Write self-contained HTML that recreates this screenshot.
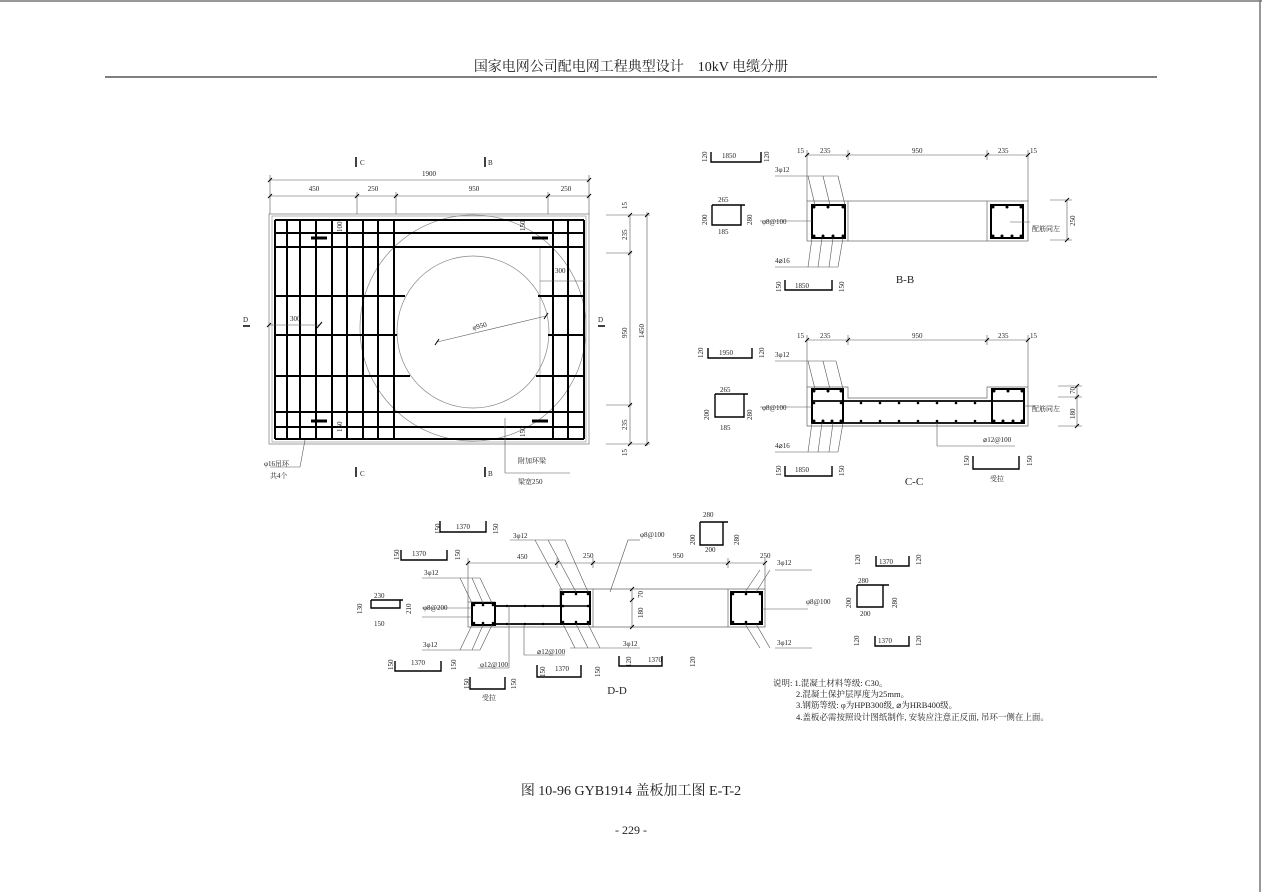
<!DOCTYPE html>
<html><head><meta charset="utf-8"><style>
html,body{margin:0;padding:0;background:#fff;}
svg{display:block}
text{font-family:"Liberation Serif","Noto Serif CJK SC",serif;fill:#222}
.d{font-size:7px}
</style></head><body>
<svg width="1262" height="892" viewBox="0 0 1262 892" xmlns="http://www.w3.org/2000/svg">
<!-- page border -->
<line x1="0" y1="1" x2="1262" y2="1" stroke="#777" stroke-width="1.5"/>
<line x1="1260" y1="0" x2="1260" y2="892" stroke="#777" stroke-width="1.5"/>
<text x="631" y="71" text-anchor="middle" font-size="14" style="font-family:'Liberation Serif','Noto Serif CJK SC',serif">国家电网公司配电网工程典型设计　10kV 电缆分册</text>
<line x1="105" y1="77" x2="1157" y2="77" stroke="#333" stroke-width="1.3"/>

<!-- ===== PLAN ===== -->
<g stroke="#000" fill="none">
<rect x="269" y="214" width="320" height="230" stroke="#888" stroke-width="0.8"/>
<rect x="272" y="216" width="314" height="226" stroke="#888" stroke-width="0.6"/>
<circle cx="473" cy="328" r="113" stroke="#888" stroke-width="0.7"/>
<circle cx="473" cy="332" r="76" stroke="#888" stroke-width="0.7"/>
<line x1="540" y1="247" x2="540" y2="412" stroke="#888" stroke-width="0.6"/>
<g stroke-width="2">
<line x1="275" y1="220" x2="275" y2="439"/><line x1="287" y1="220" x2="287" y2="439"/>
<line x1="300" y1="220" x2="300" y2="439"/><line x1="316" y1="220" x2="316" y2="439"/>
<line x1="332" y1="220" x2="332" y2="439"/><line x1="347" y1="220" x2="347" y2="439"/>
<line x1="363" y1="220" x2="363" y2="439"/><line x1="378" y1="220" x2="378" y2="439"/>
<line x1="394" y1="220" x2="394" y2="439"/>
<line x1="553" y1="220" x2="553" y2="439"/><line x1="568" y1="220" x2="568" y2="439"/>
<line x1="584" y1="220" x2="584" y2="439"/>
<line x1="275" y1="220" x2="584" y2="220"/><line x1="275" y1="233" x2="584" y2="233"/>
<line x1="275" y1="247" x2="584" y2="247"/><line x1="275" y1="412" x2="584" y2="412"/>
<line x1="275" y1="427" x2="584" y2="427"/><line x1="275" y1="439" x2="584" y2="439"/>
<line x1="275" y1="296" x2="405" y2="296"/><line x1="538" y1="296" x2="584" y2="296"/>
<line x1="275" y1="335" x2="397" y2="335"/><line x1="548" y1="335" x2="584" y2="335"/>
<line x1="275" y1="376" x2="410" y2="376"/><line x1="536" y1="376" x2="584" y2="376"/>
</g>
<g stroke-width="3">
<line x1="311" y1="238" x2="327" y2="238"/><line x1="532" y1="238" x2="548" y2="238"/>
<line x1="311" y1="421" x2="327" y2="421"/><line x1="532" y1="421" x2="548" y2="421"/>
</g>
<g stroke-width="0.6" stroke="#555">
<line x1="270" y1="180" x2="589" y2="180"/><line x1="270" y1="196" x2="589" y2="196"/>
<line x1="270" y1="175" x2="270" y2="214"/><line x1="589" y1="175" x2="589" y2="214"/>
<line x1="357" y1="192" x2="357" y2="214"/><line x1="396" y1="192" x2="396" y2="214"/><line x1="548" y1="192" x2="548" y2="214"/>
<line x1="630" y1="215" x2="630" y2="444"/><line x1="647" y1="212" x2="647" y2="446"/>
<line x1="606" y1="215" x2="650" y2="215"/><line x1="606" y1="253" x2="632" y2="253"/>
<line x1="606" y1="405" x2="632" y2="405"/><line x1="606" y1="444" x2="650" y2="444"/>
<line x1="437" y1="342" x2="546" y2="316"/>
<line x1="269" y1="325" x2="320" y2="325"/>
<line x1="540" y1="281" x2="585" y2="281"/>
<line x1="305" y1="440" x2="300" y2="467" /><line x1="300" y1="467" x2="270" y2="467"/>
<line x1="505" y1="418" x2="505" y2="473"/><line x1="505" y1="473" x2="570" y2="473"/>
</g>
<g stroke-width="1">
<line x1="268" y1="182" x2="272" y2="178"/><line x1="587" y1="182" x2="591" y2="178"/>
<line x1="268" y1="198" x2="272" y2="194"/><line x1="355" y1="198" x2="359" y2="194"/><line x1="394" y1="198" x2="398" y2="194"/><line x1="546" y1="198" x2="550" y2="194"/><line x1="587" y1="198" x2="591" y2="194"/>
<line x1="628" y1="217" x2="632" y2="213"/><line x1="628" y1="255" x2="632" y2="251"/><line x1="628" y1="407" x2="632" y2="403"/><line x1="628" y1="446" x2="632" y2="442"/>
<line x1="645" y1="217" x2="649" y2="213"/><line x1="645" y1="446" x2="649" y2="442"/>
<line x1="435" y1="345" x2="439" y2="339"/><line x1="544" y1="319" x2="548" y2="313"/>
<line x1="267" y1="327" x2="271" y2="323"/><line x1="317" y1="328" x2="322" y2="322"/>
</g>
<g stroke-width="1.5">
<line x1="356" y1="157" x2="356" y2="167"/><line x1="485" y1="157" x2="485" y2="167"/>
<line x1="356" y1="467" x2="356" y2="477"/><line x1="485" y1="467" x2="485" y2="477"/>
<line x1="243" y1="326" x2="250" y2="326"/><line x1="598" y1="326" x2="605" y2="326"/>
</g>
</g>
<g class="d">
<text x="360" y="165" class="d">C</text><text x="488" y="165" class="d">B</text>
<text x="360" y="476" class="d">C</text><text x="488" y="476" class="d">B</text>
<text x="243" y="322" class="d">D</text><text x="598" y="322" class="d">D</text>
<text x="429" y="176" class="d" text-anchor="middle">1900</text>
<text x="314" y="191" class="d" text-anchor="middle">450</text><text x="373" y="191" class="d" text-anchor="middle">250</text>
<text x="474" y="191" class="d" text-anchor="middle">950</text><text x="566" y="191" class="d" text-anchor="middle">250</text>
<text x="290" y="321" class="d">300</text><text x="555" y="273" class="d">300</text>
<text x="473" y="330" class="d" transform="rotate(-14 473 330)">φ950</text>
<text x="264" y="466" class="d">φ16吊环</text><text x="270" y="478" class="d">共4个</text>
<text x="518" y="463" class="d">附加环梁</text><text x="518" y="484" class="d">梁宽250</text>
<g transform="rotate(-90)">
<text x="-209" y="627" class="d">15</text><text x="-240" y="627" class="d">235</text>
<text x="-338" y="627" class="d">950</text><text x="-430" y="627" class="d">235</text>
<text x="-456" y="627" class="d">15</text><text x="-338" y="644" class="d">1450</text>
<text x="-232" y="342" class="d">100</text><text x="-432" y="342" class="d">150</text>
<text x="-231" y="525" class="d">150</text><text x="-437" y="525" class="d">150</text>
</g>
</g>

<!-- ===== B-B ===== -->
<g stroke="#000" fill="none">
<rect x="807" y="201" width="221" height="40" stroke="#666" stroke-width="0.7"/>
<line x1="848" y1="201" x2="848" y2="241" stroke="#666" stroke-width="0.7"/>
<line x1="987" y1="201" x2="987" y2="241" stroke="#666" stroke-width="0.7"/>
<rect x="812" y="205" width="33" height="33" stroke-width="2"/>
<rect x="991" y="205" width="32" height="33" stroke-width="2"/>
<g stroke-width="0.6" stroke="#555">
<line x1="807" y1="155" x2="1028" y2="155"/>
<line x1="807" y1="150" x2="807" y2="201"/><line x1="1028" y1="150" x2="1028" y2="201"/>
<line x1="848" y1="150" x2="848" y2="160"/><line x1="987" y1="150" x2="987" y2="160"/>
<line x1="1067" y1="200" x2="1067" y2="240"/><line x1="1050" y1="200" x2="1072" y2="200"/><line x1="1050" y1="240" x2="1072" y2="240"/>
<line x1="775" y1="176" x2="838" y2="176"/><line x1="808" y1="176" x2="815" y2="205"/><line x1="823" y1="176" x2="830" y2="205"/><line x1="838" y1="176" x2="845" y2="205"/>
<line x1="760" y1="221" x2="812" y2="221"/>
<line x1="775" y1="267" x2="838" y2="267"/><line x1="812" y1="238" x2="808" y2="267"/><line x1="822" y1="238" x2="818" y2="267"/><line x1="833" y1="238" x2="829" y2="267"/><line x1="843" y1="238" x2="838" y2="267"/>
<line x1="1010" y1="222" x2="1030" y2="222"/>
</g>
<g stroke-width="1.4">
<path d="M711 152 V162 H761 V152"/><path d="M785 280 V290 H832 V280"/>
<path d="M712 205 V225 H741 V205 M712 205 H745"/>
</g>
<g stroke-width="1">
<line x1="805" y1="157" x2="809" y2="153"/><line x1="846" y1="157" x2="850" y2="153"/><line x1="985" y1="157" x2="989" y2="153"/><line x1="1026" y1="157" x2="1030" y2="153"/>
<line x1="1065" y1="202" x2="1069" y2="198"/><line x1="1065" y1="242" x2="1069" y2="238"/>
</g>
</g>
<g fill="#000">
<circle cx="814" cy="207" r="1.5"/><circle cx="828" cy="207" r="1.5"/><circle cx="843" cy="207" r="1.5"/>
<circle cx="814" cy="236" r="1.5"/><circle cx="823" cy="236" r="1.5"/><circle cx="833" cy="236" r="1.5"/><circle cx="843" cy="236" r="1.5"/>
<circle cx="993" cy="207" r="1.5"/><circle cx="1007" cy="207" r="1.5"/><circle cx="1021" cy="207" r="1.5"/>
<circle cx="993" cy="236" r="1.5"/><circle cx="1002" cy="236" r="1.5"/><circle cx="1012" cy="236" r="1.5"/><circle cx="1021" cy="236" r="1.5"/>
</g>
<g class="d">
<text x="797" y="153" class="d">15</text><text x="820" y="153" class="d">235</text><text x="912" y="153" class="d">950</text><text x="998" y="153" class="d">235</text><text x="1030" y="153" class="d">15</text>
<text x="722" y="158" class="d">1850</text><text x="775" y="172" class="d">3φ12</text>
<text x="718" y="202" class="d">265</text><text x="718" y="234" class="d">185</text><text x="762" y="224" class="d">φ8@100</text>
<text x="775" y="263" class="d">4⌀16</text><text x="795" y="288" class="d">1850</text>
<text x="1032" y="231" class="d">配筋同左</text>
<text x="905" y="283" font-size="11" text-anchor="middle">B-B</text>
<g transform="rotate(-90)">
<text x="-162" y="707" class="d">120</text><text x="-162" y="769" class="d">120</text>
<text x="-225" y="707" class="d">200</text><text x="-225" y="752" class="d">280</text>
<text x="-292" y="781" class="d">150</text><text x="-292" y="844" class="d">150</text>
<text x="-226" y="1075" class="d">250</text>
</g>
</g>

<!-- ===== C-C ===== -->
<g stroke="#000" fill="none">
<path d="M807 387 H848 V398 H987 V387 H1028 V426 H807 Z" stroke="#666" stroke-width="0.7"/>
<rect x="812" y="389" width="31" height="34" stroke-width="2"/>
<rect x="992" y="389" width="32" height="34" stroke-width="2"/>
<line x1="812" y1="401" x2="1024" y2="401" stroke-width="1.8"/>
<line x1="843" y1="423" x2="992" y2="423" stroke-width="1.8"/>
<g stroke-width="0.6" stroke="#555">
<line x1="807" y1="340" x2="1028" y2="340"/>
<line x1="807" y1="335" x2="807" y2="387"/><line x1="1028" y1="335" x2="1028" y2="387"/>
<line x1="848" y1="335" x2="848" y2="345"/><line x1="987" y1="335" x2="987" y2="345"/>
<line x1="1077" y1="386" x2="1077" y2="426"/><line x1="1058" y1="386" x2="1082" y2="386"/><line x1="1058" y1="397" x2="1082" y2="397"/><line x1="1058" y1="426" x2="1082" y2="426"/>
<line x1="775" y1="361" x2="836" y2="361"/><line x1="808" y1="361" x2="815" y2="389"/><line x1="823" y1="361" x2="830" y2="389"/><line x1="836" y1="361" x2="843" y2="389"/>
<line x1="760" y1="407" x2="812" y2="407"/>
<line x1="775" y1="452" x2="838" y2="452"/><line x1="812" y1="423" x2="808" y2="452"/><line x1="822" y1="423" x2="818" y2="452"/><line x1="833" y1="423" x2="829" y2="452"/><line x1="843" y1="423" x2="838" y2="452"/>
<line x1="937" y1="423" x2="937" y2="446"/><line x1="937" y1="446" x2="1015" y2="446"/>
<line x1="1024" y1="406" x2="1035" y2="406"/>
</g>
<g stroke-width="1.4">
<path d="M708 348 V358 H752 V348"/><path d="M785 466 V476 H832 V466"/><path d="M973 456 V469 H1019 V456"/>
<path d="M715 394 V417 H744 V394 M715 394 H748"/>
</g>
<g stroke-width="1">
<line x1="805" y1="342" x2="809" y2="338"/><line x1="846" y1="342" x2="850" y2="338"/><line x1="985" y1="342" x2="989" y2="338"/><line x1="1026" y1="342" x2="1030" y2="338"/>
<line x1="1075" y1="388" x2="1079" y2="384"/><line x1="1075" y1="399" x2="1079" y2="395"/><line x1="1075" y1="428" x2="1079" y2="424"/>
</g>
</g>
<g fill="#000">
<circle cx="814" cy="391" r="1.5"/><circle cx="828" cy="391" r="1.5"/><circle cx="841" cy="391" r="1.5"/>
<circle cx="994" cy="391" r="1.5"/><circle cx="1008" cy="391" r="1.5"/><circle cx="1022" cy="391" r="1.5"/>
<circle cx="814" cy="403" r="1.3"/><circle cx="841" cy="403" r="1.3"/>
<circle cx="861" cy="403" r="1.3"/><circle cx="880" cy="403" r="1.3"/><circle cx="899" cy="403" r="1.3"/><circle cx="918" cy="403" r="1.3"/><circle cx="937" cy="403" r="1.3"/><circle cx="956" cy="403" r="1.3"/><circle cx="975" cy="403" r="1.3"/>
<circle cx="861" cy="421" r="1.3"/><circle cx="880" cy="421" r="1.3"/><circle cx="899" cy="421" r="1.3"/><circle cx="918" cy="421" r="1.3"/><circle cx="937" cy="421" r="1.3"/><circle cx="956" cy="421" r="1.3"/><circle cx="975" cy="421" r="1.3"/>
<circle cx="814" cy="421" r="1.5"/><circle cx="823" cy="421" r="1.5"/><circle cx="832" cy="421" r="1.5"/><circle cx="841" cy="421" r="1.5"/>
<circle cx="994" cy="421" r="1.5"/><circle cx="1003" cy="421" r="1.5"/><circle cx="1013" cy="421" r="1.5"/><circle cx="1022" cy="421" r="1.5"/>
</g>
<g class="d">
<text x="797" y="338" class="d">15</text><text x="820" y="338" class="d">235</text><text x="912" y="338" class="d">950</text><text x="998" y="338" class="d">235</text><text x="1030" y="338" class="d">15</text>
<text x="719" y="355" class="d">1950</text><text x="775" y="357" class="d">3φ12</text>
<text x="720" y="392" class="d">265</text><text x="720" y="430" class="d">185</text><text x="762" y="410" class="d">φ8@100</text>
<text x="775" y="448" class="d">4⌀16</text><text x="795" y="472" class="d">1850</text>
<text x="983" y="442" class="d">⌀12@100</text><text x="990" y="481" class="d">受拉</text>
<text x="1032" y="411" class="d">配筋同左</text>
<text x="914" y="485" font-size="11" text-anchor="middle">C-C</text>
<g transform="rotate(-90)">
<text x="-358" y="703" class="d">120</text><text x="-358" y="764" class="d">120</text>
<text x="-420" y="709" class="d">200</text><text x="-420" y="752" class="d">280</text>
<text x="-476" y="781" class="d">150</text><text x="-476" y="844" class="d">150</text>
<text x="-466" y="969" class="d">150</text><text x="-466" y="1032" class="d">150</text>
<text x="-394" y="1075" class="d">70</text><text x="-419" y="1075" class="d">180</text>
</g>
</g>

<!-- ===== D-D ===== -->
<g stroke="#000" fill="none">
<path d="M468 602 H495 V606 H560 V589 H593 H765 V627 H468 Z" stroke="#666" stroke-width="0.7"/>
<line x1="593" y1="589" x2="593" y2="627" stroke="#666" stroke-width="0.7"/>
<line x1="728" y1="589" x2="728" y2="627" stroke="#666" stroke-width="0.7"/>
<rect x="472" y="603" width="23" height="22" stroke-width="2"/>
<rect x="561" y="592" width="29" height="32" stroke-width="2"/>
<rect x="731" y="592" width="31" height="32" stroke-width="2"/>
<line x1="495" y1="606" x2="561" y2="606" stroke-width="1.8"/><line x1="495" y1="624" x2="561" y2="624" stroke-width="1.8"/>
<line x1="561" y1="606" x2="590" y2="606" stroke-width="1.5"/>
<g stroke-width="0.6" stroke="#555">
<line x1="468" y1="563" x2="765" y2="563"/>
<line x1="468" y1="558" x2="468" y2="602"/><line x1="765" y1="558" x2="765" y2="589"/>
<line x1="557" y1="558" x2="557" y2="568"/><line x1="593" y1="558" x2="593" y2="568"/><line x1="728" y1="558" x2="728" y2="568"/>
<line x1="632" y1="589" x2="632" y2="627"/>
<line x1="422" y1="578" x2="480" y2="578"/><line x1="460" y1="578" x2="472" y2="603"/><line x1="472" y1="578" x2="483" y2="603"/><line x1="480" y1="578" x2="492" y2="603"/>
<line x1="422" y1="617" x2="472" y2="617"/><line x1="422" y1="608" x2="472" y2="608"/>
<line x1="422" y1="650" x2="480" y2="650"/><line x1="472" y1="625" x2="460" y2="650"/><line x1="483" y1="625" x2="472" y2="650"/><line x1="492" y1="625" x2="480" y2="650"/>
<line x1="510" y1="540" x2="565" y2="540"/><line x1="535" y1="540" x2="563" y2="592"/><line x1="548" y1="540" x2="576" y2="592"/><line x1="565" y1="540" x2="588" y2="592"/>
<line x1="570" y1="648" x2="640" y2="648"/><line x1="563" y1="624" x2="575" y2="648"/><line x1="576" y1="624" x2="588" y2="648"/><line x1="588" y1="624" x2="600" y2="648"/>
<line x1="610" y1="592" x2="628" y2="540"/><line x1="628" y1="540" x2="640" y2="540"/>
<line x1="775" y1="570" x2="812" y2="570"/><line x1="745" y1="592" x2="760" y2="570"/><line x1="756" y1="592" x2="770" y2="570"/>
<line x1="775" y1="648" x2="812" y2="648"/><line x1="745" y1="624" x2="760" y2="648"/><line x1="756" y1="624" x2="770" y2="648"/>
<line x1="762" y1="609" x2="808" y2="609"/>
<line x1="509" y1="606" x2="509" y2="668"/><line x1="478" y1="668" x2="509" y2="668"/>
<line x1="524" y1="624" x2="524" y2="655"/><line x1="524" y1="655" x2="565" y2="655"/>
</g>
<g stroke-width="1.4">
<path d="M440 521 V532 H486 V521"/><path d="M401 550 V560 H447 V550"/>
<path d="M395 661 V671 H441 V661"/><path d="M470 677 V689 H505 V677"/>
<path d="M537 665 V677 H581 V665"/><path d="M619 656 V666 H662 V656"/>
<path d="M876 556 V566 H909 V556"/><path d="M875 636 V646 H909 V636"/>
<path d="M700 522 V545 H723 V522 M700 522 H728"/>
<path d="M371 600 V608 H400 V600 M371 600 H403"/>
<path d="M857 585 V607 H883 V585 M857 585 H889"/>
</g>
<g stroke-width="1">
<line x1="466" y1="565" x2="470" y2="561"/><line x1="555" y1="565" x2="559" y2="561"/><line x1="591" y1="565" x2="595" y2="561"/><line x1="726" y1="565" x2="730" y2="561"/><line x1="763" y1="565" x2="767" y2="561"/>
<line x1="630" y1="591" x2="634" y2="587"/><line x1="630" y1="602" x2="634" y2="598"/><line x1="630" y1="629" x2="634" y2="625"/>
</g>
</g>
<g fill="#000">
<circle cx="474" cy="605" r="1.3"/><circle cx="483" cy="605" r="1.3"/><circle cx="493" cy="605" r="1.3"/>
<circle cx="474" cy="623" r="1.3"/><circle cx="483" cy="623" r="1.3"/><circle cx="493" cy="623" r="1.3"/>
<circle cx="507" cy="606" r="1.2"/><circle cx="525" cy="606" r="1.2"/><circle cx="543" cy="606" r="1.2"/>
<circle cx="507" cy="624" r="1.2"/><circle cx="525" cy="624" r="1.2"/><circle cx="543" cy="624" r="1.2"/>
<circle cx="563" cy="594" r="1.3"/><circle cx="576" cy="594" r="1.3"/><circle cx="588" cy="594" r="1.3"/>
<circle cx="563" cy="606" r="1.3"/><circle cx="588" cy="606" r="1.3"/>
<circle cx="563" cy="622" r="1.3"/><circle cx="576" cy="622" r="1.3"/><circle cx="588" cy="622" r="1.3"/>
<circle cx="733" cy="594" r="1.3"/><circle cx="746" cy="594" r="1.3"/><circle cx="760" cy="594" r="1.3"/>
<circle cx="733" cy="622" r="1.3"/><circle cx="746" cy="622" r="1.3"/><circle cx="760" cy="622" r="1.3"/>
</g>
<g class="d">
<text x="456" y="529" class="d">1370</text><text x="412" y="556" class="d">1370</text>
<text x="513" y="538" class="d">3φ12</text><text x="424" y="575" class="d">3φ12</text>
<text x="640" y="537" class="d">φ8@100</text>
<text x="703" y="517" class="d">280</text><text x="705" y="552" class="d">200</text>
<text x="517" y="559" class="d">450</text><text x="583" y="558" class="d">250</text><text x="673" y="558" class="d">950</text><text x="760" y="558" class="d">250</text>
<text x="777" y="565" class="d">3φ12</text><text x="879" y="564" class="d">1370</text>
<text x="374" y="598" class="d">230</text><text x="374" y="626" class="d">150</text>
<text x="423" y="610" class="d">φ8@200</text>
<text x="423" y="647" class="d">3φ12</text><text x="623" y="646" class="d">3φ12</text><text x="777" y="645" class="d">3φ12</text>
<text x="806" y="604" class="d">φ8@100</text>
<text x="858" y="583" class="d">280</text><text x="860" y="616" class="d">200</text>
<text x="878" y="643" class="d">1370</text>
<text x="411" y="665" class="d">1370</text><text x="480" y="667" class="d">φ12@100</text>
<text x="537" y="654" class="d">⌀12@100</text>
<text x="555" y="671" class="d">1370</text><text x="648" y="662" class="d">1370</text>
<text x="482" y="700" class="d">受拉</text>
<text x="617" y="694" font-size="11" text-anchor="middle">D-D</text>
<g transform="rotate(-90)">
<text x="-534" y="440" class="d">150</text><text x="-534" y="498" class="d">150</text>
<text x="-560" y="399" class="d">150</text><text x="-560" y="460" class="d">150</text>
<text x="-614" y="362" class="d">130</text><text x="-614" y="411" class="d">210</text>
<text x="-545" y="695" class="d">200</text><text x="-545" y="739" class="d">280</text>
<text x="-565" y="860" class="d">120</text><text x="-565" y="921" class="d">120</text>
<text x="-608" y="851" class="d">200</text><text x="-608" y="897" class="d">280</text>
<text x="-646" y="859" class="d">120</text><text x="-646" y="921" class="d">120</text>
<text x="-598" y="643" class="d">70</text><text x="-618" y="643" class="d">180</text>
<text x="-670" y="393" class="d">150</text><text x="-670" y="456" class="d">150</text>
<text x="-689" y="469" class="d">150</text><text x="-689" y="516" class="d">150</text>
<text x="-677" y="545" class="d">150</text><text x="-677" y="600" class="d">150</text>
<text x="-667" y="631" class="d">120</text><text x="-667" y="695" class="d">120</text>
</g>
</g>

<!-- notes -->
<g font-size="8.5">
<text x="773" y="686">说明: 1.混凝土材料等级: C30。</text>
<text x="796" y="697">2.混凝土保护层厚度为25mm。</text>
<text x="796" y="708">3.钢筋等级: φ为HPB300级, ⌀为HRB400级。</text>
<text x="796" y="720">4.盖板必需按照设计图纸制作, 安装应注意正反面, 吊环一侧在上面。</text>
</g>

<text x="631" y="795" text-anchor="middle" font-size="14">图 10-96 GYB1914 盖板加工图 E-T-2</text>
<text x="631" y="834" text-anchor="middle" font-size="12">- 229 -</text>
</svg>
</body></html>
